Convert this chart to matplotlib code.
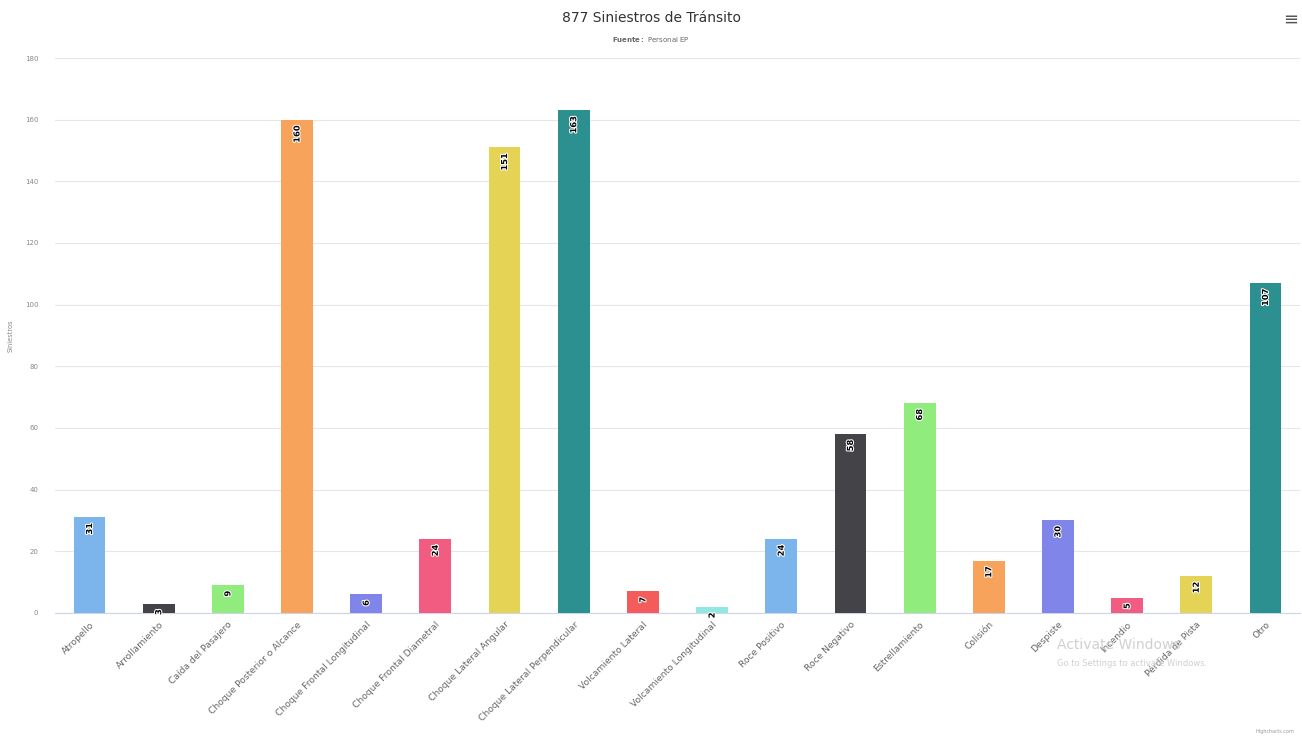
#!/usr/bin/env python3
import matplotlib
matplotlib.use("Agg")
import matplotlib.pyplot as plt
import matplotlib.patheffects as pe

categorias = [
    "Atropello", "Arrollamiento", "Caída del Pasajero",
    "Choque Posterior o Alcance", "Choque Frontal Longitudinal",
    "Choque Frontal Diametral", "Choque Lateral Angular",
    "Choque Lateral Perpendicular", "Volcamiento Lateral",
    "Volcamiento Longitudinal", "Roce Positivo", "Roce Negativo",
    "Estrellamiento", "Colisión", "Despiste", "Incendio",
    "Pérdida de Pista", "Otro",
]
siniestros = [31, 3, 9, 160, 6, 24, 151, 163, 7, 2, 24, 58, 68, 17, 30, 5, 12, 107]
yticks = [0, 20, 40, 60, 80, 100, 120, 140, 160, 180]

# paleta por defecto de Highcharts (colorByPoint)
paleta = ["#7cb5ec", "#434348", "#90ed7d", "#f7a35c", "#8085e9",
          "#f15c80", "#e4d354", "#2b908f", "#f45b5b", "#91e8e1"]

plt.rcParams["font.family"] = ["DejaVu Sans"]

fig = plt.figure(figsize=(13.02, 7.38), dpi=100)
ax = fig.add_axes([0.0422, 0.1694, 0.9563, 0.752])

x = list(range(len(categorias)))
colores = [paleta[i % len(paleta)] for i in x]
ax.bar(x, siniestros, width=0.46, color=colores, zorder=3)

ax.set_xlim(-0.5, len(categorias) - 0.5)
ax.set_ylim(0, 180)
ax.set_yticks(yticks)
ax.set_yticklabels([str(t) for t in yticks], fontsize=5, color="#888888")
ax.grid(axis="y", color="#e6e6e6", linewidth=0.8, zorder=0)
ax.set_xticks(x)
ax.set_xticklabels(categorias, rotation=45, ha="right", rotation_mode="anchor",
                   fontsize=6.6, color="#666666")
ax.tick_params(axis="both", length=0)
ax.tick_params(axis="x", pad=5)
ax.tick_params(axis="y", pad=12)
for s in ["top", "right", "left"]:
    ax.spines[s].set_visible(False)
ax.spines["bottom"].set_color("#ccd6eb")
ax.spines["bottom"].set_linewidth(0.8)
ax.set_ylabel("Siniestros", fontsize=4.8, color="#888888", labelpad=8)

for xi, v in zip(x, siniestros):
    ax.annotate(str(v), (xi, v), xytext=(0, -4), textcoords="offset points",
                ha="center", va="top", rotation=90, fontsize=6, fontweight="bold",
                color="#000000", zorder=4,
                path_effects=[pe.withStroke(linewidth=1.5, foreground="white")])

fig.text(0.5, 0.975, "877 Siniestros de Tránsito", ha="center", va="center",
         fontsize=10, color="#333333")
fig.text(0.5, 0.946, r"$\bf{Fuente:}$ Personal EP", ha="center", va="center",
         fontsize=5, color="#666666")
fig.text(0.991, 0.974, "≡", ha="center", va="center", fontsize=13, color="#555555")
fig.text(0.994, 0.006, "Highcharts.com", ha="right", va="bottom",
         fontsize=3.5, color="#999999")

# marca de agua de la captura
fig.text(0.812, 0.126, "Activate Windows", ha="left", va="center",
         fontsize=10, color="#d0d0d0")
fig.text(0.812, 0.101, "Go to Settings to activate Windows.", ha="left", va="center",
         fontsize=6, color="#d0d0d0")

fig.savefig("out.png", dpi=100, facecolor="white")
